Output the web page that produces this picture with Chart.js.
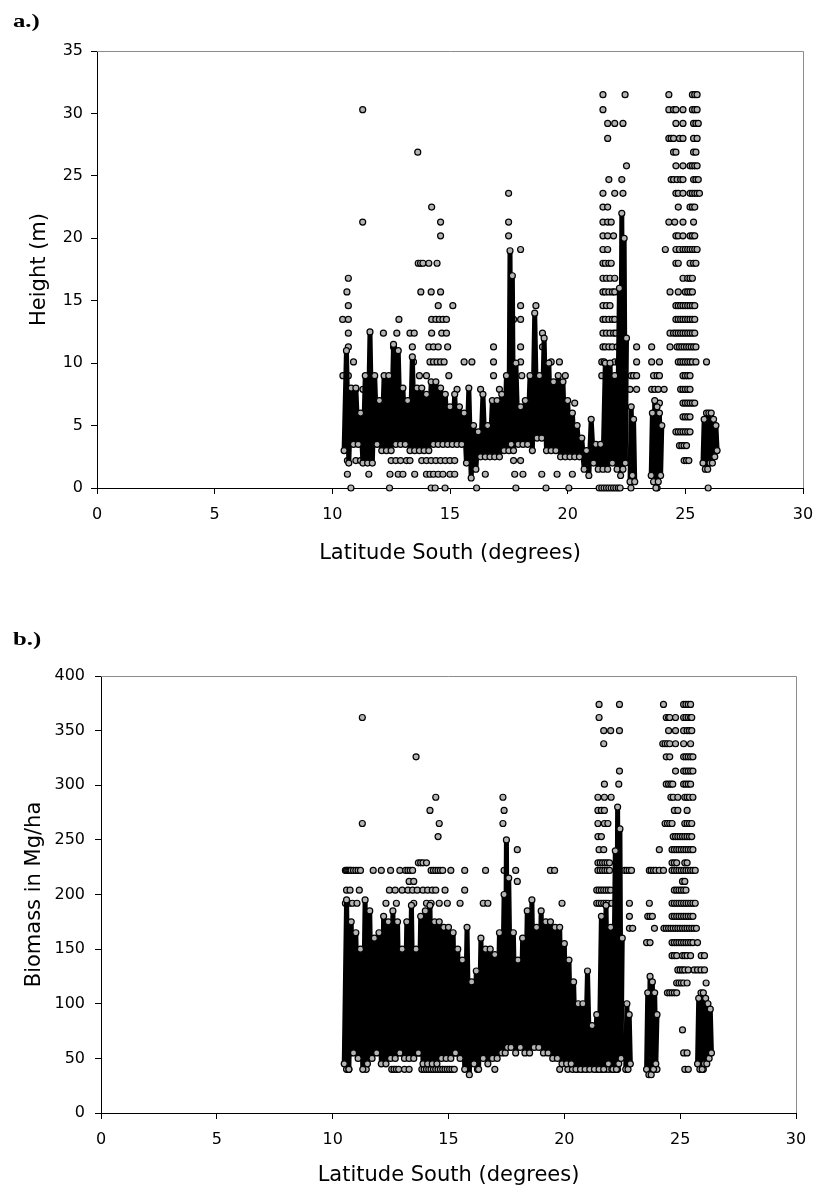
<!DOCTYPE html>
<html>
<head>
<meta charset="utf-8">
<script src="https://cdn.jsdelivr.net/npm/chart.js@4.4.1/dist/chart.umd.min.js"></script>
<style>
  body { margin: 0; background: #fff; width: 815px; height: 1190px; position: relative; overflow: hidden; }
  .panel { position: absolute; left: 0; width: 815px; }
  .tag { position: absolute; font: bold 19px "Liberation Serif", serif; color: #000; line-height: 19px; transform: scaleX(1.3); transform-origin: left top; }
</style>
</head>
<body>
<div class="panel" style="top:0;height:588px"><canvas id="chart-height"></canvas></div>
<div class="panel" style="top:600px;height:590px"><canvas id="chart-biomass"></canvas></div>
<div class="tag" style="left:13px;top:11px">a.)</div>
<div class="tag" style="left:13px;top:629px">b.)</div>
<script>
// tick labels
const latTicks = [0, 5, 10, 15, 20, 25, 30];
const heightTicks = [0, 5, 10, 15, 20, 25, 30, 35];
const biomassTicks = [0, 50, 100, 150, 200, 250, 300, 350, 400];

// a.) dense transect core (latitude, height m), null = gap
const coreLatA = [
  10.5, 10.6, 10.7, 10.8, 10.9, 11.0, 11.1, 11.2, 11.3, 11.4,
  11.5, 11.6, 11.7, 11.8, 11.9, 12.0, 12.1, 12.2, 12.3, 12.4,
  12.5, 12.6, 12.7, 12.8, 12.9, 13.0, 13.1, 13.2, 13.3, 13.4,
  13.5, 13.6, 13.7, 13.8, 13.9, 14.0, 14.1, 14.2, 14.3, 14.4,
  14.5, 14.6, 14.7, 14.8, 14.9, 15.0, 15.1, 15.2, 15.3, 15.4,
  15.5, 15.6, 15.7, 15.8, 15.9, 16.0, 16.1, 16.2, 16.3, 16.4,
  16.5, 16.6, 16.7, 16.8, 16.9, 17.0, 17.1, 17.2, 17.3, 17.4,
  17.5, 17.55, 17.6, 17.65, 17.7, 17.8, 17.9, 18.0, 18.1, 18.2,
  18.3, 18.4, 18.5, 18.6, 18.7, 18.8, 18.9, 19.0, 19.1, 19.2,
  19.3, 19.4, 19.5, 19.6, 19.7, 19.8, 19.9, 20.0, 20.1, 20.2,
  20.3, 20.4, 20.5, 20.6, 20.7, 20.8, 20.9, 21.0, 21.1, 21.2,
  21.3, 21.4, 21.5, 21.6, 21.7, 21.8, 21.9, 22.0, 22.1, 22.2,
  22.25, 22.3, 22.35, 22.4, 22.45, 22.5, 22.58, 22.65, 22.7, 22.75,
  22.8, 22.85, 23.2, 23.55, 23.6, 23.65, 23.7, 23.75, 23.8, 23.85,
  23.9, 23.95, 24.0, 25.0, 25.75, 25.8, 25.85, 25.9, 25.95, 26.0,
  26.05, 26.1, 26.15, 26.2, 26.25, 26.3, 26.35
];
const coreHeightA = [
  3, 11, 2, 8, 3.5, 8, 3.5, 6, 2, 9,
  2, 12.5, 2, 9, 3.5, 7, 3, 9, 3, 9,
  3, 11.5, 3.5, 11, 3.5, 8, 3.5, 7, 3, 10.5,
  3, 8, 3, 8, 3, 7.5, 3, 8.5, 3.5, 8.5,
  3.5, 8, 3.5, 7.5, 3.5, 6.5, 3.5, 7.5, 3.5, 6.5,
  3.5, 6, 2, 8, 0.8, 5, 1.5, 4.5, 2.5, 7.5,
  2.5, 5, 2.5, 7, 2.5, 7, 2.5, 7.5, 3, 9,
  3, 19, 3.5, 17, 3, 10, 3.5, 6.5, 3.5, 7,
  3.5, 9, 3, 14, 4, 9, 4, 12, 3, 10,
  3, 8.5, 3, 9, 2.5, 8.5, 2.5, 7, 2.5, 6,
  2.5, 5, 2.5, 4, 1.5, 3, 1, 5.5, 2, 3.5,
  1.5, 3.5, 1.5, 10, 1.5, 10, 2, 9, 1.5, 16,
  1, 22, 1.5, 20, 2, 12, null, 0.5, 6.5, 1,
  5.5, 0.5, null, 1, 6, 0.5, 7, 0, 6.5, 0.5,
  6, 1, 5, null, 2, 5.5, 1.5, 6, 1.5, 6,
  2, 6, 2, 5.5, 2.5, 5, 3
];

// a.) scattered trees, grouped by height class (m) -> latitudes
const rowHeightA = [31.5, 30.3, 29.2, 28.0, 26.9, 25.8, 24.7, 23.6, 22.5, 21.3, 20.2, 19.1, 18.0, 16.8, 15.7,
  14.6, 13.5, 12.4, 11.3, 10.1, 9.0, 7.9, 6.8, 5.7, 4.5, 3.4, 2.2, 1.1, 0];
const rowLatA = [
  [21.5, 22.44, 24.3, 25.3, 25.4, 25.5],
  [11.29, 21.5, 24.3, 24.5, 24.6, 24.9, 25.3, 25.4, 25.5],
  [21.7, 22.0, 22.35, 24.6, 24.9, 25.35, 25.45, 25.55],
  [21.7, 24.3, 24.4, 24.5, 24.75, 24.9, 25.35, 25.5],
  [13.63, 24.5, 24.6, 25.35, 25.45],
  [22.5, 24.6, 24.9, 25.2, 25.3, 25.4, 25.5],
  [21.75, 22.3, 24.4, 24.5, 24.65, 24.8, 24.9, 25.35, 25.45, 25.55],
  [17.49, 21.5, 22.0, 22.35, 24.6, 24.7, 24.9, 25.2, 25.3, 25.4, 25.5, 25.6],
  [14.22, 21.5, 21.7, 24.7, 25.2, 25.3, 25.4],
  [11.29, 14.6, 17.49, 21.5, 21.7, 21.85, 24.3, 24.55, 24.9, 25.35],
  [14.6, 17.49, 21.5, 21.7, 21.95, 24.6, 24.7, 24.9, 25.2, 25.3, 25.4],
  [18.0, 21.5, 21.7, 24.15, 24.6, 24.75, 24.9, 25.0, 25.1, 25.2, 25.3, 25.4, 25.5],
  [13.65, 13.75, 13.85, 14.1, 14.45, 21.5, 21.6, 21.75, 21.85, 24.6, 24.7, 25.2, 25.35, 25.45],
  [10.68, 21.5, 21.65, 21.8, 22.0, 24.9, 25.1, 25.2, 25.3],
  [10.62, 13.76, 14.2, 14.6, 21.5, 21.6, 21.75, 21.9, 22.0, 24.35, 24.7, 25.0, 25.1, 25.2, 25.3],
  [10.68, 14.5, 15.12, 18.0, 18.65, 21.5, 21.65, 21.8, 24.6, 24.7, 24.8, 24.9, 25.0, 25.1, 25.2, 25.3, 25.4],
  [10.44, 10.68, 12.83, 14.22, 14.4, 14.55, 14.7, 14.85, 17.7, 18.0, 21.5, 21.6, 21.75, 21.9, 22.0,
    24.6, 24.7, 24.8, 24.9, 25.0, 25.1, 25.2, 25.3, 25.4],
  [10.68, 12.17, 12.74, 13.3, 13.48, 14.22, 14.65, 14.85, 18.93, 21.5, 21.65, 21.8, 21.95, 22.05,
    24.35, 24.5, 24.6, 24.7, 24.8, 24.9, 25.0, 25.1, 25.2, 25.3, 25.4],
  [10.68, 12.6, 13.4, 14.1, 14.3, 14.5, 14.9, 16.85, 18.0, 18.93, 21.5, 21.6, 21.75, 21.9, 22.1, 22.93, 23.57,
    24.35, 24.65, 24.75, 24.85, 24.95, 25.05, 25.15, 25.25, 25.35, 25.45],
  [10.9, 13.45, 14.15, 14.3, 14.45, 14.6, 14.75, 15.6, 15.93, 16.85, 18.0, 19.3, 19.65, 21.45, 21.55, 22.0,
    22.15, 22.93, 23.57, 23.9, 24.7, 24.8, 24.9, 25.0, 25.1, 25.2, 25.3, 25.45, 25.9],
  [10.45, 10.68, 13.7, 14.0, 14.95, 16.85, 18.05, 19.1, 19.9, 21.45, 22.1, 22.7, 22.8, 22.93, 23.65, 23.8,
    23.9, 24.9, 25.0, 25.1, 25.2],
  [11.0, 11.3, 15.3, 16.3, 17.1, 22.65, 22.93, 23.57, 23.7, 23.85, 24.1, 24.8, 24.9, 25.0, 25.1, 25.2],
  [20.3, 23.9, 24.9, 25.0, 25.1, 25.2, 25.3, 25.4],
  [24.9, 25.0, 25.1, 25.2],
  [24.6, 24.7, 24.8, 24.9, 25.0, 25.1, 25.2],
  [24.75, 24.85, 24.95, 25.05],
  [10.64, 11.0, 11.2, 12.5, 12.7, 12.9, 13.15, 13.3, 13.8, 14.0, 14.2, 14.4, 14.6, 14.8, 15.0, 15.2, 17.7,
    18.0, 24.95, 25.05, 25.15],
  [10.64, 11.55, 12.45, 12.8, 13.0, 13.5, 14.0, 14.15, 14.3, 14.5, 14.7, 15.0, 15.2, 16.5, 17.75, 18.1,
    18.9, 19.55, 20.2],
  [10.79, 12.43, 14.2, 14.37, 14.79, 16.13, 17.8, 19.08, 20.05, 21.34, 21.45, 21.55, 21.65, 21.75, 21.85,
    21.95, 22.05, 22.15, 22.23, 22.69, 23.8, 25.97]
];

// b.) dense transect core (latitude, biomass Mg/ha), null = gap
const coreLatB = [
  10.5, 10.6, 10.7, 10.8, 10.9, 11.0, 11.1, 11.2, 11.3, 11.4,
  11.5, 11.6, 11.7, 11.8, 11.9, 12.0, 12.1, 12.2, 12.3, 12.4,
  12.5, 12.6, 12.7, 12.8, 12.9, 13.0, 13.1, 13.2, 13.3, 13.4,
  13.5, 13.6, 13.7, 13.8, 13.9, 14.0, 14.1, 14.2, 14.3, 14.4,
  14.5, 14.6, 14.7, 14.8, 14.9, 15.0, 15.1, 15.2, 15.3, 15.4,
  15.5, 15.6, 15.7, 15.8, 15.9, 16.0, 16.1, 16.2, 16.3, 16.4,
  16.5, 16.6, 16.7, 16.8, 16.9, 17.0, 17.1, 17.2, 17.3, 17.4,
  17.45, 17.5, 17.55, 17.6, 17.7, 17.8, 17.9, 18.0, 18.1, 18.2,
  18.3, 18.4, 18.5, 18.6, 18.7, 18.8, 18.9, 19.0, 19.1, 19.2,
  19.3, 19.4, 19.5, 19.6, 19.7, 19.8, 19.9, 20.0, 20.1, 20.2,
  20.3, 20.4, 20.5, 20.6, 20.7, 20.8, 20.9, 21.0, 21.1, 21.2,
  21.3, 21.4, 21.5, 21.6, 21.7, 21.8, 21.9, 22.0, 22.1, 22.2,
  22.25, 22.3, 22.35, 22.4, 22.45, 22.5, 22.58, 22.65, 22.7, 22.75,
  22.8, 22.85, 23.2, 23.55, 23.6, 23.65, 23.7, 23.75, 23.8, 23.85,
  23.9, 23.95, 24.0, 25.0, 25.75, 25.8, 25.85, 25.9, 25.95, 26.0,
  26.05, 26.1, 26.15, 26.2, 26.25, 26.3, 26.35
];
const coreBiomassB = [
  45, 195, 40, 175, 55, 165, 50, 150, 40, 195,
  45, 185, 50, 160, 55, 165, 45, 180, 45, 175,
  50, 185, 50, 175, 55, 150, 50, 175, 50, 190,
  50, 150, 55, 180, 45, 185, 45, 190, 45, 175,
  45, 175, 50, 170, 50, 170, 50, 165, 55, 150,
  50, 140, 40, 170, 35, 120, 45, 130, 40, 160,
  50, 150, 45, 150, 50, 145, 50, 165, 55, 200,
  55, 250, 60, 215, 60, 165, 55, 140, 60, 160,
  55, 185, 55, 195, 60, 170, 60, 185, 55, 175,
  55, 175, 50, 170, 50, 170, 45, 155, 45, 140,
  45, 120, 40, 100, 40, 100, 40, 130, 40, 80,
  40, 90, 40, 180, 40, 190, 45, 170, 40, 240,
  40, 280, 45, 260, 50, 160, null, 40, 100, 40,
  90, 45, null, 40, 110, 35, 125, 35, 120, 40,
  110, 45, 90, null, 45, 105, 40, 110, 40, 110,
  45, 105, 45, 100, 50, 95, 55
];

// b.) scattered trees, grouped by biomass class (Mg/ha) -> latitudes
const rowBiomassB = [374, 362, 350, 338, 326, 313, 301, 289, 277, 265, 253, 241, 229, 222, 212, 204, 192,
  180, 169, 156, 144, 131, 119, 110, 76, 55, 40];
const rowLatB = [
  [21.5, 22.38, 24.28, 25.15, 25.25, 25.35, 25.45],
  [11.28, 21.5, 24.4, 24.5, 24.55, 24.8, 25.15, 25.25, 25.35, 25.45, 25.5],
  [21.7, 22.0, 22.38, 24.5, 24.8, 25.15, 25.3, 25.4, 25.5],
  [21.7, 24.25, 24.35, 24.45, 24.55, 24.8, 25.15, 25.45],
  [13.6, 24.4, 24.55, 25.15, 25.25, 25.35, 25.45, 25.55],
  [22.38, 24.8, 25.15, 25.25, 25.35, 25.45, 25.55],
  [21.73, 22.35, 24.4, 24.5, 24.6, 24.68, 25.15, 25.25, 25.35, 25.45],
  [14.45, 17.35, 21.45, 21.73, 22.02, 24.6, 24.7, 24.9, 25.2, 25.3, 25.4, 25.55],
  [14.2, 17.4, 21.45, 21.6, 21.73, 24.75, 24.9, 25.3],
  [11.28, 14.6, 17.35, 21.45, 21.73, 21.88, 24.35, 24.45, 24.55, 24.65, 25.2, 25.3, 25.4, 25.5],
  [14.55, 21.45, 21.6, 24.7, 24.8, 24.9, 25.0, 25.1, 25.2, 25.3, 25.4, 25.5],
  [17.97, 21.5, 21.7, 24.1, 24.65, 24.75, 24.85, 24.95, 25.05, 25.15, 25.25, 25.35, 25.45, 25.55],
  [13.7, 13.8, 13.9, 14.05, 21.45, 21.55, 21.65, 21.75, 21.85, 21.95, 24.65, 24.75, 24.85, 25.2, 25.3],
  [10.55, 10.6, 10.65, 10.7, 10.75, 10.8, 10.9, 11.0, 11.1, 11.2, 11.75, 12.1, 12.5, 12.9, 13.15, 13.25,
    13.35, 13.45, 14.25, 14.35, 14.45, 14.55, 14.65, 14.75, 15.1, 15.7, 16.6, 17.4, 17.9, 19.4, 19.58,
    21.45, 21.55, 21.65, 21.75, 21.85, 21.95, 22.6, 22.7, 22.8, 22.9, 23.67, 23.75, 23.85, 23.95, 24.1,
    24.28, 24.65, 24.75, 24.85, 24.95, 25.05, 25.15, 25.25, 25.35, 25.45, 25.55, 25.65],
  [13.3, 13.5, 17.97, 25.1, 25.2],
  [10.6, 10.75, 11.15, 12.45, 12.7, 13.0, 13.25, 13.45, 13.65, 13.9, 14.1, 14.3, 14.45, 14.85, 15.7, 21.4,
    21.5, 21.6, 21.7, 21.8, 21.9, 22.0, 24.75, 24.85, 24.95, 25.05, 25.15, 25.25],
  [10.55, 10.7, 10.85, 11.05, 12.3, 12.75, 13.5, 14.05, 14.25, 14.6, 14.95, 15.5, 16.5, 16.7, 19.9, 21.4,
    21.5, 21.6, 21.7, 21.8, 21.9, 22.05, 22.81, 23.67, 24.65, 24.75, 24.85, 24.95, 25.05, 25.15, 25.25,
    25.35, 25.45, 25.55, 25.65],
  [22.81, 23.6, 23.7, 23.8, 24.65, 24.75, 24.85, 24.95, 25.05, 25.15, 25.25, 25.35, 25.45, 25.55],
  [22.81, 22.95, 23.89, 24.3, 24.4, 24.5, 24.6, 24.7, 24.8, 24.9, 25.0, 25.1, 25.2, 25.3, 25.4, 25.5,
    25.6, 25.7],
  [23.55, 23.7, 24.65, 24.75, 24.85, 24.95, 25.05, 25.15, 25.25, 25.35, 25.45, 25.55, 25.75],
  [24.65, 24.75, 24.85, 25.1, 25.2, 25.3, 25.45, 25.91, 26.05],
  [24.9, 25.0, 25.1, 25.2, 25.35, 25.6, 25.75, 25.9, 26.05],
  [24.85, 24.95, 25.05, 25.15, 25.3, 26.12],
  [24.45, 24.55, 24.65, 24.75, 24.85],
  [25.1],
  [10.75, 11.3, 12.6, 12.8, 13.0, 13.55, 13.7, 13.85, 14.0, 14.15, 14.3, 14.6, 15.3, 16.45, 25.15, 25.3],
  [10.6, 10.7, 11.45, 12.55, 12.65, 12.75, 12.85, 13.1, 13.3, 13.85, 13.95, 14.05, 14.15, 14.25, 14.35,
    14.45, 14.55, 14.65, 14.75, 14.85, 14.95, 15.05, 15.15, 15.25, 16.25, 17.0, 19.8, 20.15, 20.35, 20.55,
    20.75, 20.95, 21.3, 21.45, 21.6, 21.75, 21.9, 22.05, 22.2, 22.3, 22.7, 23.7, 23.85, 24.0, 25.2, 25.35, 26.0]
];

Chart.defaults.font.family = '"DejaVu Sans", sans-serif';
Chart.defaults.color = '#000';

const toPoints = (xs, ys) => xs.map((x, i) => ({ x, y: ys[i] }));
const rowsToPoints = (levels, lats) => levels.flatMap((v, i) => lats[i].map(x => ({ x, y: v })));

// grey top / right edge of the plot box
const plotFrame = {
  id: 'plotFrame',
  afterDraw(chart) {
    const { ctx, chartArea: { left, top, right, bottom } } = chart;
    ctx.save();
    ctx.strokeStyle = '#8c8c8c';
    ctx.lineWidth = 1;
    ctx.beginPath();
    ctx.moveTo(left, top + 0.5);
    ctx.lineTo(right + 0.5, top + 0.5);
    ctx.lineTo(right + 0.5, bottom);
    ctx.stroke();
    ctx.restore();
  }
};

function scatterChart(id, o) {
  return new Chart(document.getElementById(id), {
    type: 'scatter',
    data: {
      datasets: [
        {
          data: o.core,
          showLine: true,
          spanGaps: false,
          borderColor: '#000',
          borderWidth: 5,
          borderJoinStyle: 'round',
          borderCapStyle: 'round',
          pointRadius: 3,
          pointBorderWidth: 1.2,
          pointBackgroundColor: '#b4b4b4',
          pointBorderColor: '#000',
          clip: 8
        },
        {
          data: o.scatter,
          pointRadius: 3,
          borderWidth: 1.2,
          backgroundColor: '#b4b4b4',
          borderColor: '#000',
          clip: 8
        }
      ]
    },
    options: {
      animation: false,
      responsive: true,
      maintainAspectRatio: false,
      layout: { padding: o.padding },
      plugins: { legend: { display: false }, tooltip: { enabled: false } },
      scales: {
        x: {
          type: 'linear',
          min: 0,
          max: 30,
          afterBuildTicks: s => { s.ticks = latTicks.map(value => ({ value })); },
          afterFit: s => { s.height = o.xHeight; s.paddingLeft = 0; s.paddingRight = 0; },
          grid: { drawOnChartArea: false, drawTicks: true, tickLength: 6, color: '#000' },
          border: { display: true, color: '#000', width: 1 },
          ticks: { padding: 11, font: { size: 16 } },
          title: { display: true, text: 'Latitude South (degrees)', font: { size: 21 }, padding: { top: 0, bottom: o.xTitlePad } }
        },
        y: {
          min: 0,
          max: o.yTicks[o.yTicks.length - 1],
          afterBuildTicks: s => { s.ticks = o.yTicks.map(value => ({ value })); },
          afterFit: s => { s.width = o.yWidth; s.paddingTop = 0; s.paddingBottom = 0; },
          grid: { drawOnChartArea: false, drawTicks: true, tickLength: 6, color: '#000' },
          border: { display: true, color: '#000', width: 1 },
          ticks: { padding: o.yTickPad, font: { size: 16 } },
          title: { display: true, text: o.yTitle, font: { size: 21 }, padding: { top: o.yTitlePad, bottom: 0 } }
        }
      }
    },
    plugins: [plotFrame]
  });
}

scatterChart('chart-height', {
  core: toPoints(coreLatA, coreHeightA),
  scatter: rowsToPoints(rowHeightA, rowLatA),
  yTicks: heightTicks,
  yTitle: 'Height (m)',
  padding: { top: 51, right: 12, left: 0, bottom: 0 },
  xHeight: 100,
  yWidth: 97,
  yTickPad: 8,
  xTitlePad: 22,
  yTitlePad: 27
});

scatterChart('chart-biomass', {
  core: toPoints(coreLatB, coreBiomassB),
  scatter: rowsToPoints(rowBiomassB, rowLatB),
  yTicks: biomassTicks,
  yTitle: 'Biomass in Mg/ha',
  padding: { top: 76, right: 19, left: 0, bottom: 0 },
  xHeight: 77,
  yWidth: 101,
  yTickPad: 10,
  xTitlePad: 2,
  yTitlePad: 22
});
</script>
</body>
</html>
